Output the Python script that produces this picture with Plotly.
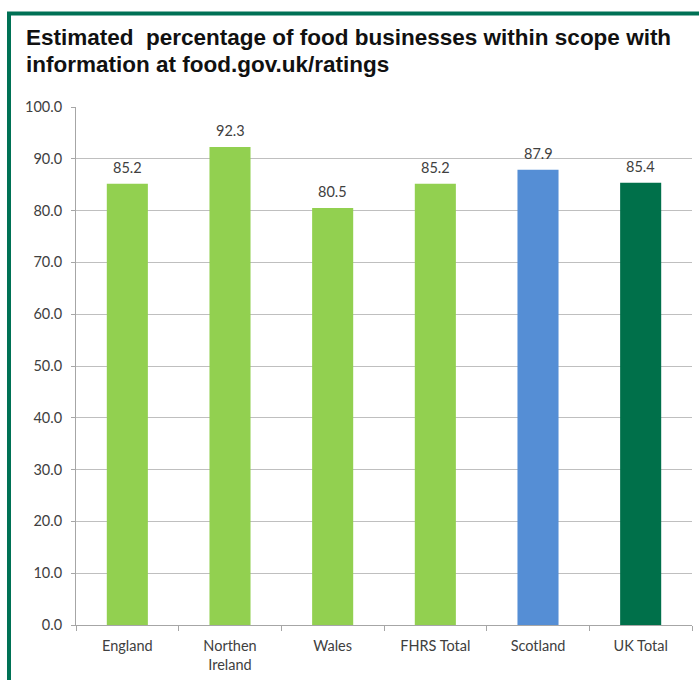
import plotly.graph_objects as go

categories = ["England", "Northen<br>Ireland", "Wales", "FHRS Total", "Scotland", "UK Total"]
values = [85.2, 92.3, 80.5, 85.2, 87.9, 85.4]
bar_colors = ["#92D050", "#92D050", "#92D050", "#92D050", "#558ED5", "#00704A"]
title_lines = ["Estimated  percentage of food businesses within scope with",
               "information at food.gov.uk/ratings"]

W, H = 699, 680
L, R, T, B = 76, 7, 107, 55
PW, PH = W - L - R, H - T - B

def px_x(px):
    return (px - L) / PW

def px_y(py):
    return (H - B - py) / PH

fig = go.Figure(go.Bar(
    x=categories, y=values,
    marker=dict(color=bar_colors, line=dict(width=0)),
    width=0.4,
))

label_font = dict(family="Lato, Open Sans, sans-serif", size=14.5, color="#404040")
for c, v in zip(categories, values):
    fig.add_annotation(x=c, y=v, text=f"{v:.1f}", showarrow=False,
                       yanchor="bottom", yshift=6, font=label_font)

for line, cy in zip(title_lines, [38, 64]):
    fig.add_annotation(
        xref="paper", yref="paper", x=px_x(24), y=px_y(cy),
        xanchor="left", yanchor="middle", showarrow=False, text=line,
        font=dict(family="Liberation Sans, Arial, sans-serif", size=22.5, color="#111111", weight="bold"),
    )

fig.update_layout(
    width=W, height=H,
    margin=dict(l=L, r=R, t=T, b=B),
    paper_bgcolor="white", plot_bgcolor="white",
    showlegend=False,
    xaxis=dict(
        showline=True, linecolor="#A6A6A6", linewidth=1,
        ticks="outside", tickson="boundaries", ticklen=5, tickcolor="#A6A6A6",
        ticklabelstandoff=8,
        tickfont=dict(family="Lato, Open Sans, sans-serif", size=14.5, color="#404040"),
        showgrid=False,
    ),
    yaxis=dict(
        range=[0, 100], dtick=10, tickformat=".1f",
        showline=True, linecolor="#A6A6A6", linewidth=1,
        ticks="outside", ticklen=4, tickcolor="#A6A6A6",
        ticklabelstandoff=6,
        tickfont=dict(family="Lato, Open Sans, sans-serif", size=14.5, color="#404040"),
        showgrid=True, gridcolor="#BFBFBF", gridwidth=1,
        zeroline=False,
    ),
    bargap=0.6,
)

fig.add_shape(
    type="rect", xref="paper", yref="paper",
    x0=px_x(9), x1=px_x(730), y0=px_y(700), y1=px_y(13.5),
    line=dict(color="#007155", width=4), fillcolor="rgba(0,0,0,0)", layer="above",
)

fig.write_html("out.html")
